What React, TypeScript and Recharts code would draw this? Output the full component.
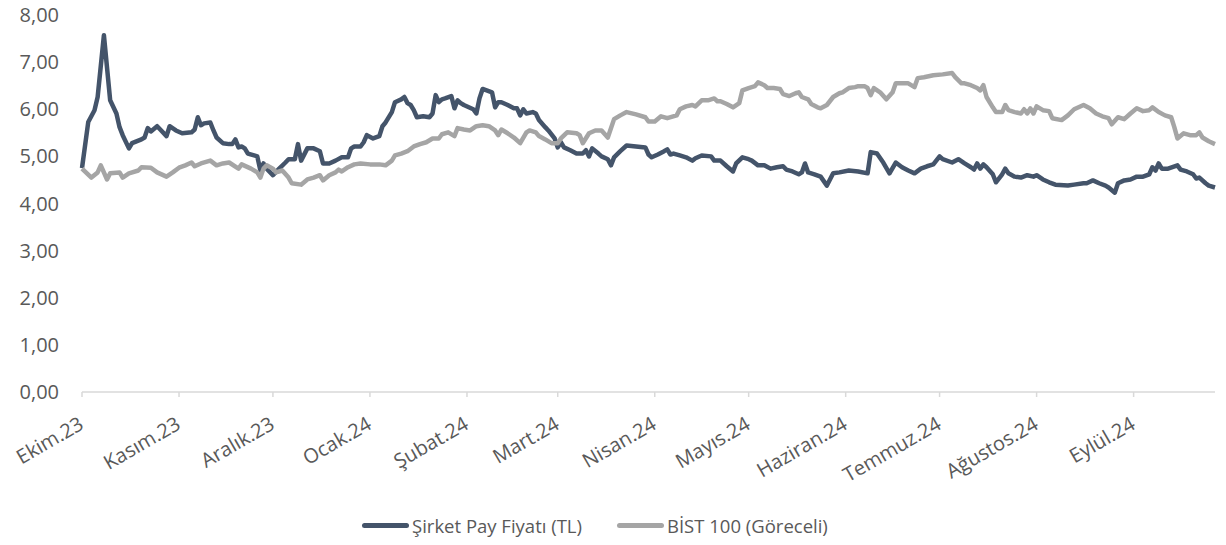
import React from 'react';
import { LineChart, Line, XAxis, YAxis, Legend } from 'recharts';

// gün: 2 Ekim 2023'ten itibaren geçen takvim günü
const sirketGun = [
  0, 2, 4, 5, 7, 9, 11, 12, 13, 15, 16, 19, 20, 21, 22, 24, 25, 27, 28, 30,
  32, 35, 36, 37, 38, 39, 41, 42, 43, 45, 47, 48, 49, 50, 51, 52, 53, 55, 56, 57,
  58, 59, 61, 63, 65, 66, 68, 69, 70, 72, 74, 76, 77, 79, 81, 83, 85, 86, 87, 89,
  90, 91, 93, 95, 96, 97, 99, 100, 102, 103, 104, 105, 106, 107, 109, 111, 112, 113, 114, 115,
  116, 118, 119, 120, 121, 122, 125, 126, 127, 128, 131, 132, 133, 134, 136, 138, 139, 140, 141, 142,
  144, 145, 146, 148, 149, 151, 152, 153, 154, 156, 158, 160, 161, 162, 163, 165, 166, 168, 169, 170,
  172, 174, 177, 180, 181, 182, 184, 186, 187, 188, 189, 191, 193, 195, 196, 198, 201, 202, 204, 206,
  208, 209, 211, 213, 214, 216, 218, 220, 222, 224, 225, 227, 229, 230, 231, 232, 234, 236, 238, 240,
  242, 245, 248, 251, 252, 254, 256, 258, 260, 262, 264, 266, 268, 270, 272, 274, 275, 278, 280, 282,
  284, 285, 286, 287, 288, 289, 291, 292, 294, 295, 296, 298, 300, 302, 304, 305, 307, 309, 311, 315,
  317, 320, 321, 323, 325, 327, 328, 330, 331, 333, 335, 337, 339, 341, 342, 343, 344, 345, 347, 350,
  351, 353, 355, 356, 357, 359, 360, 362,
];
const sirketFiyat = [
  4.75, 5.73, 5.98, 6.26, 7.57, 6.19, 5.91, 5.62, 5.45, 5.17, 5.28, 5.36, 5.40, 5.60, 5.53, 5.64, 5.57, 5.43, 5.64, 5.55,
  5.49, 5.51, 5.57, 5.83, 5.66, 5.70, 5.72, 5.55, 5.40, 5.28, 5.26, 5.26, 5.36, 5.19, 5.21, 5.17, 5.06, 5.02, 5.00, 4.70,
  4.85, 4.74, 4.60, 4.74, 4.87, 4.94, 4.94, 5.26, 4.91, 5.17, 5.17, 5.11, 4.85, 4.85, 4.91, 4.98, 4.98, 5.17, 5.21, 5.21,
  5.30, 5.45, 5.38, 5.43, 5.64, 5.72, 5.94, 6.15, 6.21, 6.26, 6.13, 6.09, 5.98, 5.83, 5.85, 5.83, 5.91, 6.30, 6.15, 6.21,
  6.23, 6.28, 6.02, 6.19, 6.13, 6.09, 6.00, 5.91, 6.23, 6.43, 6.36, 6.04, 6.15, 6.15, 6.09, 6.02, 6.02, 5.87, 6.00, 5.91,
  5.94, 5.91, 5.77, 5.62, 5.55, 5.38, 5.19, 5.30, 5.19, 5.13, 5.06, 5.06, 5.13, 5.00, 5.17, 5.06, 5.00, 4.94, 4.81, 4.98,
  5.11, 5.23, 5.21, 5.19, 5.04, 4.98, 5.04, 5.11, 5.15, 5.04, 5.06, 5.02, 4.98, 4.91, 4.96, 5.02, 5.00, 4.91, 4.91, 4.79,
  4.68, 4.85, 4.98, 4.94, 4.91, 4.81, 4.81, 4.74, 4.77, 4.79, 4.72, 4.68, 4.62, 4.66, 4.85, 4.66, 4.62, 4.57, 4.38, 4.64,
  4.66, 4.70, 4.68, 4.64, 5.09, 5.06, 4.87, 4.64, 4.87, 4.77, 4.70, 4.64, 4.74, 4.79, 4.83, 5.00, 4.94, 4.87, 4.94, 4.85,
  4.77, 4.72, 4.85, 4.74, 4.83, 4.77, 4.62, 4.45, 4.62, 4.74, 4.64, 4.57, 4.55, 4.60, 4.57, 4.60, 4.51, 4.45, 4.40, 4.38,
  4.40, 4.43, 4.43, 4.49, 4.43, 4.38, 4.34, 4.23, 4.43, 4.49, 4.51, 4.57, 4.57, 4.62, 4.77, 4.70, 4.85, 4.74, 4.74, 4.81,
  4.72, 4.68, 4.62, 4.53, 4.55, 4.43, 4.38, 4.34,
];

const bistGun = [
  0, 3, 5, 6, 8, 9, 12, 13, 15, 18, 19, 22, 24, 27, 29, 31, 33, 35, 36, 38,
  41, 43, 45, 47, 50, 51, 54, 56, 57, 58, 59, 61, 62, 64, 66, 67, 70, 72, 74, 76,
  77, 79, 81, 82, 83, 85, 87, 89, 92, 95, 97, 99, 100, 102, 104, 106, 108, 110, 112, 114,
  115, 117, 119, 120, 122, 124, 126, 128, 130, 132, 133, 134, 136, 138, 140, 142, 143, 145, 146, 148,
  150, 152, 153, 155, 158, 159, 160, 162, 164, 166, 168, 170, 172, 174, 177, 180, 181, 183, 185, 187,
  190, 191, 193, 195, 196, 198, 200, 202, 203, 204, 206, 208, 210, 211, 213, 215, 216, 218, 219, 221,
  223, 224, 226, 228, 229, 230, 232, 233, 235, 236, 238, 240, 242, 243, 245, 247, 248, 250, 251, 252,
  253, 255, 257, 259, 260, 262, 264, 266, 267, 269, 272, 275, 278, 279, 281, 282, 284, 286, 287, 288,
  289, 291, 292, 294, 295, 296, 298, 300, 301, 302, 303, 304, 305, 307, 309, 310, 313, 315, 317, 320,
  322, 324, 326, 328, 329, 331, 333, 335, 337, 339, 341, 342, 344, 346, 348, 349, 350, 352, 354, 356,
  357, 358, 360, 362,
];
const bistGoreceli = [
  4.74, 4.55, 4.66, 4.81, 4.51, 4.64, 4.66, 4.55, 4.64, 4.70, 4.77, 4.76, 4.66, 4.57, 4.66, 4.76, 4.81, 4.87, 4.79, 4.85,
  4.91, 4.81, 4.85, 4.87, 4.74, 4.83, 4.74, 4.66, 4.55, 4.74, 4.81, 4.74, 4.66, 4.70, 4.55, 4.43, 4.40, 4.51, 4.55, 4.60,
  4.49, 4.60, 4.66, 4.72, 4.68, 4.77, 4.83, 4.85, 4.83, 4.83, 4.81, 4.91, 5.02, 5.06, 5.11, 5.21, 5.26, 5.30, 5.38, 5.38,
  5.47, 5.51, 5.43, 5.60, 5.57, 5.55, 5.64, 5.66, 5.64, 5.55, 5.45, 5.57, 5.49, 5.40, 5.28, 5.51, 5.55, 5.51, 5.43, 5.36,
  5.28, 5.28, 5.38, 5.51, 5.49, 5.45, 5.28, 5.49, 5.55, 5.55, 5.40, 5.79, 5.87, 5.94, 5.89, 5.83, 5.74, 5.74, 5.85, 5.81,
  5.87, 6.00, 6.06, 6.09, 6.06, 6.19, 6.19, 6.23, 6.17, 6.17, 6.11, 6.04, 6.13, 6.40, 6.45, 6.49, 6.57, 6.51, 6.45, 6.45,
  6.43, 6.32, 6.28, 6.34, 6.36, 6.26, 6.21, 6.11, 6.04, 6.02, 6.09, 6.26, 6.34, 6.36, 6.45, 6.47, 6.49, 6.49, 6.45, 6.30,
  6.45, 6.36, 6.21, 6.36, 6.55, 6.55, 6.55, 6.47, 6.66, 6.68, 6.72, 6.74, 6.77, 6.68, 6.55, 6.55, 6.51, 6.45, 6.40, 6.51,
  6.26, 6.04, 5.94, 5.94, 6.09, 5.98, 5.94, 5.91, 6.00, 5.91, 6.02, 5.91, 6.06, 5.98, 5.96, 5.81, 5.77, 5.87, 6.00, 6.09,
  6.02, 5.91, 5.85, 5.81, 5.68, 5.83, 5.79, 5.91, 6.02, 5.96, 5.98, 6.04, 5.94, 5.87, 5.83, 5.62, 5.38, 5.49, 5.45, 5.45,
  5.51, 5.40, 5.32, 5.26,
];

const ayGunleri = [0, 31, 61, 92, 123, 152, 183, 213, 244, 274, 305, 336];
const ayEtiketleri = [
  'Ekim.23', 'Kasım.23', 'Aralık.23', 'Ocak.24', 'Şubat.24', 'Mart.24',
  'Nisan.24', 'Mayıs.24', 'Haziran.24', 'Temmuz.24', 'Ağustos.24', 'Eylül.24',
];
const yTicks = [0, 1, 2, 3, 4, 5, 6, 7, 8];

const seriAdlari = ['Şirket Pay Fiyatı (TL)', 'BİST 100 (Göreceli)'];

const sirketData = sirketGun.map((gun, i) => ({ gun, deger: sirketFiyat[i] }));
const bistData = bistGun.map((gun, i) => ({ gun, deger: bistGoreceli[i] }));

const KOYU = '#44546A';
const GRI = '#A5A5A5';
const YAZI = '#595959';
const FONT = '"Open Sans", sans-serif';

const AyTick = (props: any) => {
  const { x, y, payload } = props;
  const i = ayGunleri.indexOf(payload.value);
  return (
    <g transform={`translate(${x + 3},${y + 29})`}>
      <text textAnchor="end" transform="rotate(-30)" fill={YAZI} fontSize={20} fontFamily={FONT}>
        {ayEtiketleri[i]}
      </text>
    </g>
  );
};

const Lejant = () => (
  <div style={{ position: 'relative', height: 40, fontFamily: FONT, fontSize: 18.5, color: YAZI }}>
    {[KOYU, GRI].map((renk, i) => (
      <div
        key={i}
        style={{ position: 'absolute', left: i === 0 ? 362 : 617, top: 0, height: 40, display: 'flex', alignItems: 'center' }}
      >
        <span style={{ display: 'inline-block', width: 47, height: 5, borderRadius: 3, background: renk, marginRight: 3 }} />
        <span>{seriAdlari[i]}</span>
      </div>
    ))}
  </div>
);

const App: React.FC = () => {
  return (
    <div style={{ position: 'absolute', left: 0, top: 0, background: '#fff' }}>
      <LineChart width={1226} height={545} margin={{ top: 15, right: 11, left: 0, bottom: 0 }}>
        <XAxis
          type="number"
          dataKey="gun"
          domain={[0, 362]}
          ticks={ayGunleri}
          interval={0}
          height={113}
          tick={<AyTick />}
          axisLine={{ stroke: '#D9D9D9', strokeWidth: 1.5 }}
          tickLine={{ stroke: '#D9D9D9', strokeWidth: 1.5 }}
          tickSize={5}
          allowDuplicatedCategory={false}
        />
        <YAxis
          type="number"
          domain={[0, 8]}
          ticks={yTicks}
          width={82}
          axisLine={false}
          tickLine={false}
          tickSize={0}
          tickMargin={23}
          tickFormatter={(v: number) => v.toFixed(2).replace('.', ',')}
          tick={{ fill: YAZI, fontSize: 20, fontFamily: FONT }}
        />
        <Line
          data={sirketData}
          dataKey="deger"
          name={seriAdlari[0]}
          type="linear"
          stroke={KOYU}
          strokeWidth={4.5}
          strokeLinejoin="round"
          dot={false}
          isAnimationActive={false}
        />
        <Line
          data={bistData}
          dataKey="deger"
          name={seriAdlari[1]}
          type="linear"
          stroke={GRI}
          strokeWidth={4.5}
          strokeLinejoin="round"
          dot={false}
          isAnimationActive={false}
        />
        <Legend
          verticalAlign="bottom"
          content={<Lejant />}
          wrapperStyle={{ left: 0, width: 1226, height: 40 }}
        />
      </LineChart>
    </div>
  );
};

export default App;
